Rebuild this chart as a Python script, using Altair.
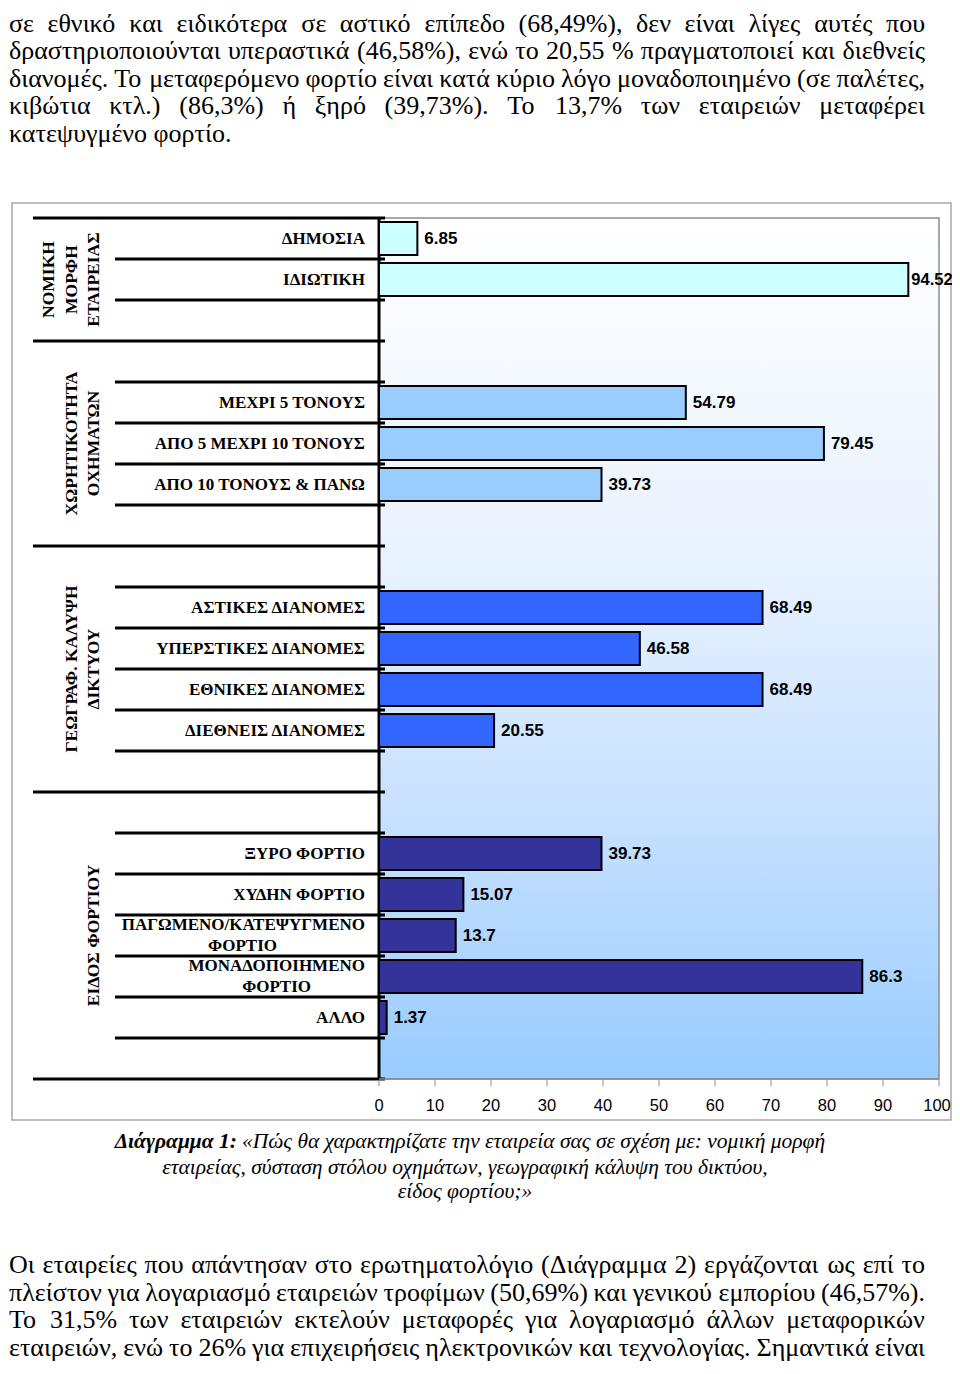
import glob
import struct

import altair as alt
import pandas as pd

# ---------------- data ----------------
top_lines = [
    "σε εθνικό και ειδικότερα σε αστικό επίπεδο (68,49%), δεν είναι λίγες αυτές που",
    "δραστηριοποιούνται υπεραστικά (46,58%), ενώ το 20,55 % πραγματοποιεί και διεθνείς",
    "διανομές. Το μεταφερόμενο φορτίο είναι κατά κύριο λόγο μοναδοποιημένο (σε παλέτες,",
    "κιβώτια κτλ.) (86,3%) ή ξηρό (39,73%). Το 13,7% των εταιρειών μεταφέρει",
    "κατεψυγμένο φορτίο.",
]
bottom_lines = [
    "Οι εταιρείες που απάντησαν στο ερωτηματολόγιο (Διάγραμμα 2) εργάζονται ως επί το",
    "πλείστον για λογαριασμό εταιρειών τροφίμων (50,69%) και γενικού εμπορίου (46,57%).",
    "Το 31,5% των εταιρειών εκτελούν μεταφορές για λογαριασμό άλλων μεταφορικών",
    "εταιρειών, ενώ το 26% για επιχειρήσεις ηλεκτρονικών και τεχνολογίας. Σημαντικά είναι",
]
caption_bold = "Διάγραμμα 1:"
caption_lines = [
    "«Πώς θα χαρακτηρίζατε την εταιρεία σας σε σχέση με: νομική μορφή",
    "εταιρείας, σύσταση στόλου οχημάτων, γεωγραφική κάλυψη του δικτύου,",
    "είδος φορτίου;»",
]

group_titles = [
    ["ΝΟΜΙΚΗ", "ΜΟΡΦΗ", "ΕΤΑΙΡΕΙΑΣ"],
    ["ΧΩΡΗΤΙΚΟΤΗΤΑ", "ΟΧΗΜΑΤΩΝ"],
    ["ΓΕΩΓΡΑΦ. ΚΑΛΥΨΗ", "ΔΙΚΤΥΟΥ"],
    ["ΕΙΔΟΣ ΦΟΡΤΙΟΥ"],
]
cats_legal = ["ΔΗΜΟΣΙΑ", "ΙΔΙΩΤΙΚΗ", ""]
vals_legal = [6.85, 94.52, None]
cats_capacity = ["", "ΜΕΧΡΙ 5 ΤΟΝΟΥΣ", "ΑΠΟ 5 ΜΕΧΡΙ 10 ΤΟΝΟΥΣ", "ΑΠΟ 10 ΤΟΝΟΥΣ & ΠΑΝΩ", ""]
vals_capacity = [None, 54.79, 79.45, 39.73, None]
cats_coverage = ["", "ΑΣΤΙΚΕΣ ΔΙΑΝΟΜΕΣ", "ΥΠΕΡΣΤΙΚΕΣ ΔΙΑΝΟΜΕΣ", "ΕΘΝΙΚΕΣ ΔΙΑΝΟΜΕΣ", "ΔΙΕΘΝΕΙΣ ΔΙΑΝΟΜΕΣ", ""]
vals_coverage = [None, 68.49, 46.58, 68.49, 20.55, None]
cats_cargo = ["", "ΞΥΡΟ ΦΟΡΤΙΟ", "ΧΥΔΗΝ ΦΟΡΤΙΟ", "ΠΑΓΩΜΕΝΟ/ΚΑΤΕΨΥΓΜΕΝΟ\nΦΟΡΤΙΟ", "ΜΟΝΑΔΟΠΟΙΗΜΕΝΟ\nΦΟΡΤΙΟ", "ΑΛΛΟ", ""]
vals_cargo = [None, 39.73, 15.07, 13.7, 86.3, 1.37, None]
group_colors = ["#CCFFFF", "#99CCFF", "#3366FF", "#333399"]
tick_values = [0, 10, 20, 30, 40, 50, 60, 70, 80, 90, 100]

# ---------------- layout constants (page pixels) ----------------
M = 8                       # page margin
PLOT_L, PLOT_R = 379, 939   # x = 0 .. 100
PLOT_T, PLOT_B = 218, 1079  # rows 0 .. n_rows
CAT_LH = 21
GRP_LH = 22.5
CAT_RIGHT = 365
TEXT_L, TEXT_R = 9, 925
BODY_SIZE = 26
SERIF = "Liberation Serif"
SANS = "Liberation Sans"


def P(v):
    return v - M


# ---------------- font metrics (for justified text) ----------------
def load_measure(fname):
    try:
        paths = glob.glob("/usr/share/fonts/**/" + fname, recursive=True)
        if not paths:
            return None
        data = open(paths[0], "rb").read()
        ntab = struct.unpack(">H", data[4:6])[0]
        tabs = {}
        for i in range(ntab):
            tag, _cs, off, ln = struct.unpack(">4sIII", data[12 + 16 * i:28 + 16 * i])
            tabs[tag.decode("latin1")] = off
        upem = struct.unpack(">H", data[tabs["head"] + 18:tabs["head"] + 20])[0]
        nhm = struct.unpack(">H", data[tabs["hhea"] + 34:tabs["hhea"] + 36])[0]
        hm = tabs["hmtx"]
        adv = [struct.unpack(">H", data[hm + 4 * i:hm + 4 * i + 2])[0] for i in range(nhm)]
        cm = tabs["cmap"]
        nsub = struct.unpack(">H", data[cm + 2:cm + 4])[0]
        st = None
        for i in range(nsub):
            pid, eid, off = struct.unpack(">HHI", data[cm + 4 + 8 * i:cm + 12 + 8 * i])
            fmt = struct.unpack(">H", data[cm + off:cm + off + 2])[0]
            if fmt == 4 and pid == 3:
                st = cm + off
                break
        if st is None:
            return None
        seg2 = struct.unpack(">H", data[st + 6:st + 8])[0]
        seg = seg2 // 2
        ends = struct.unpack(f">{seg}H", data[st + 14:st + 14 + seg2])
        starts = struct.unpack(f">{seg}H", data[st + 16 + seg2:st + 16 + 2 * seg2])
        deltas = struct.unpack(f">{seg}h", data[st + 16 + 2 * seg2:st + 16 + 3 * seg2])
        ro = st + 16 + 3 * seg2
        rofs = struct.unpack(f">{seg}H", data[ro:ro + seg2])

        def gid(ch):
            c = ord(ch)
            for k in range(seg):
                if ends[k] >= c:
                    if starts[k] > c:
                        return 0
                    if rofs[k] == 0:
                        return (c + deltas[k]) & 0xFFFF
                    a = ro + 2 * k + rofs[k] + 2 * (c - starts[k])
                    g = struct.unpack(">H", data[a:a + 2])[0]
                    return (g + deltas[k]) & 0xFFFF if g else 0
            return 0

        def measure(s, size):
            return sum(adv[min(gid(ch), nhm - 1)] for ch in s) * size / upem

        return measure
    except Exception:
        return None


measure_reg = load_measure("LiberationSerif-Regular.ttf")
measure_bold = load_measure("LiberationSerif-Bold.ttf")

# ---------------- build tables ----------------
all_cats = [cats_legal, cats_capacity, cats_coverage, cats_cargo]
all_vals = [vals_legal, vals_capacity, vals_coverage, vals_cargo]
rows, groups, short_b, long_b = [], [], [], []
r = 0
for gi, (cats, vals) in enumerate(zip(all_cats, all_vals)):
    start = r
    long_b.append(r)
    for j, (c, v) in enumerate(zip(cats, vals)):
        if j > 0:
            short_b.append(r)
        rows.append(dict(row=r, cat=c, value=v, color=group_colors[gi],
                         label="" if v is None else f"{v:g}"))
        r += 1
    groups.append(dict(title=group_titles[gi], start=start, end=r))
long_b.append(r)
n_rows = r
row_px = (PLOT_B - PLOT_T) / n_rows
x_px = (PLOT_R - PLOT_L) / 100


def row_at(page_y):
    return (page_y - PLOT_T) / row_px


def x_at(page_x):
    return (page_x - PLOT_L) / x_px


df = pd.DataFrame(rows)
df["mid"] = df["row"] + 0.5
df["y0"] = df["row"] + 0.1
df["y1"] = df["row"] + 0.9
df["zero"] = 0
bars = df[df["value"].notna()].copy()

# category label lines
first_items, other_items = [], []
for _, rw in df.iterrows():
    parts = rw["cat"].split("\n")
    n = len(parts)
    if measure_bold:
        w1 = measure_bold(parts[0], 17)
    else:
        w1 = len(parts[0]) * 0.72 * 17
    for k, part in enumerate(parts):
        yu = rw["mid"] + (k - (n - 1) / 2) * CAT_LH / row_px
        if k == 0:
            first_items.append(dict(txt=part, yu=yu))
        else:
            other_items.append(dict(txt=part, yu=yu, xu=x_at(CAT_RIGHT - w1 / 2)))
first_df = pd.DataFrame(first_items)
other_df = pd.DataFrame(other_items)

gdf = pd.DataFrame(groups)
gdf["mid"] = (gdf["start"] + gdf["end"]) / 2
gdf["gx"] = [x_at(94 - (len(t) - 1) * GRP_LH) for t in gdf["title"]]

sdf = pd.DataFrame({"b": short_b})
ldf = pd.DataFrame({"b": long_b})
tdf = pd.DataFrame({"t": tick_values})


def layout_para(lines, justify, first_y, gap_y):
    items = []
    for i, (line, just) in enumerate(zip(lines, justify)):
        yu = row_at(first_y + i * gap_y)
        if measure_reg is None or not just:
            items.append(dict(txt=line, xu=x_at(TEXT_L), yu=yu))
            continue
        words = line.split(" ")
        ws = [measure_reg(w, BODY_SIZE) for w in words]
        gap = (TEXT_R - TEXT_L - sum(ws)) / (len(words) - 1)
        xx = TEXT_L
        for w, wd in zip(words, ws):
            items.append(dict(txt=w, xu=x_at(xx), yu=yu))
            xx += wd + gap
    return pd.DataFrame(items)


top_df = layout_para(top_lines, [True] * (len(top_lines) - 1) + [False], 23.5, 27.5)
bot_df = layout_para(bottom_lines, [True] * len(bottom_lines), 1265, 27.7)
cap_df = pd.DataFrame({"i": range(len(caption_lines)), "txt": caption_lines})

# ---------------- scales ----------------
xs = alt.Scale(domain=[0, 100], range=[P(PLOT_L), P(PLOT_R)], nice=False, zero=False)
ys = alt.Scale(domain=[0, n_rows], range=[P(PLOT_T), P(PLOT_B)], nice=False, zero=False)
NOX = dict(scale=xs, axis=None)
NOY = dict(scale=ys, axis=None)

base1 = pd.DataFrame({"x0": [0], "x1": [100], "y0": [0], "y1": [n_rows]})

frame = alt.Chart(base1).mark_rect(
    fill="transparent", stroke="#A8A8A8", strokeWidth=1.5
).encode(x=alt.value(P(12)), x2=alt.value(P(951)), y=alt.value(P(203)), y2=alt.value(P(1120)))

grad = alt.LinearGradient(
    gradient="linear", x1=0, x2=0, y1=0, y2=1,
    stops=[alt.GradientStop(color="#FFFFFF", offset=0),
           alt.GradientStop(color="#E8F2FF", offset=0.4),
           alt.GradientStop(color="#C6E0FF", offset=0.7),
           alt.GradientStop(color="#99CCFF", offset=1)],
)
plotbg = alt.Chart(base1).mark_rect(fill=grad, stroke="#8C8C8C", strokeWidth=1.5).encode(
    x=alt.X("x0:Q", **NOX), x2="x1:Q",
    y=alt.Y("y0:Q", **NOY), y2="y1:Q",
)

bar_layer = alt.Chart(bars).mark_rect(stroke="black", strokeWidth=2).encode(
    x=alt.X("zero:Q", **NOX), x2="value:Q",
    y=alt.Y("y0:Q", **NOY), y2="y1:Q",
    color=alt.Color("color:N", scale=None),
)

val_style = dict(align="left", baseline="middle", font=SANS, fontWeight="bold", color="black")
val_labels = alt.Chart(bars[bars["value"] < 90]).mark_text(dx=7, fontSize=17, **val_style).encode(
    x=alt.X("value:Q", **NOX), y=alt.Y("mid:Q", **NOY), text="label:N",
)
val_labels_edge = alt.Chart(bars[bars["value"] >= 90]).mark_text(dx=3, fontSize=16.5, **val_style).encode(
    x=alt.X("value:Q", **NOX), y=alt.Y("mid:Q", **NOY), text="label:N",
)

vaxis = alt.Chart(base1).mark_rule(color="black", strokeWidth=3).encode(
    x=alt.X("x0:Q", **NOX), y=alt.Y("y0:Q", **NOY), y2="y1:Q",
)
haxis = alt.Chart(base1).mark_rule(color="#8C8C8C", strokeWidth=1.5).encode(
    x=alt.X("x0:Q", **NOX), x2="x1:Q", y=alt.Y("y1:Q", **NOY),
)

short_lines = alt.Chart(sdf).mark_rule(color="black", strokeWidth=3).encode(
    x=alt.value(P(115)), x2=alt.value(P(385)), y=alt.Y("b:Q", **NOY),
)
long_lines = alt.Chart(ldf).mark_rule(color="black", strokeWidth=3).encode(
    x=alt.value(P(33)), x2=alt.value(P(385)), y=alt.Y("b:Q", **NOY),
)

cat_style = dict(baseline="middle", font=SERIF, fontWeight="bold", fontSize=17, color="black")
cat_first = alt.Chart(first_df).mark_text(align="right", **cat_style).encode(
    x=alt.value(P(CAT_RIGHT)), y=alt.Y("yu:Q", **NOY), text="txt:N",
)
cat_other = alt.Chart(other_df).mark_text(align="center", **cat_style).encode(
    x=alt.X("xu:Q", **NOX), y=alt.Y("yu:Q", **NOY), text="txt:N",
)

grp_labels = alt.Chart(gdf).mark_text(
    align="center", baseline="middle", angle=270, font=SERIF, fontWeight="bold", fontSize=17.5,
    lineHeight=GRP_LH, color="black"
).encode(
    x=alt.X("gx:Q", **NOX), y=alt.Y("mid:Q", **NOY), text=alt.Text("title:N"),
)

tick_marks = alt.Chart(tdf).mark_rule(color="#8C8C8C", strokeWidth=1).encode(
    x=alt.X("t:Q", **NOX), y=alt.value(P(1080)), y2=alt.value(P(1086)),
)
tick_style = dict(align="center", baseline="middle", font=SANS, fontSize=16.5, color="black")
tick_labels = alt.Chart(tdf[tdf["t"] < 100]).mark_text(**tick_style).encode(
    x=alt.X("t:Q", **NOX), y=alt.value(P(1106)), text="t:Q",
)
tick_labels_edge = alt.Chart(tdf[tdf["t"] >= 100]).mark_text(dx=-2, **tick_style).encode(
    x=alt.X("t:Q", **NOX), y=alt.value(P(1106)), text="t:Q",
)

body_style = dict(align="left", baseline="middle", font=SERIF, fontSize=BODY_SIZE, color="black")
top_text = alt.Chart(top_df).mark_text(**body_style).encode(
    x=alt.X("xu:Q", **NOX), y=alt.Y("yu:Q", **NOY), text="txt:N",
)
bot_text = alt.Chart(bot_df).mark_text(**body_style).encode(
    x=alt.X("xu:Q", **NOX), y=alt.Y("yu:Q", **NOY), text="txt:N",
)

cap_style = dict(baseline="middle", font=SERIF, fontSize=21.5, fontStyle="italic", color="black")
cap_first = alt.Chart(pd.DataFrame({"txt": [caption_bold]})).mark_text(
    align="right", fontWeight="bold", **cap_style
).encode(x=alt.value(P(237)), y=alt.value(P(1142)), text="txt:N")
cap_rest1 = alt.Chart(cap_df[cap_df["i"] == 0]).mark_text(align="left", **cap_style).encode(
    x=alt.value(P(242)), y=alt.value(P(1142)), text="txt:N"
)
cap_rest = alt.Chart(cap_df[cap_df["i"] > 0]).transform_calculate(
    ly=f"{row_at(1143.5)} + datum.i * {24.4 / row_px}"
).mark_text(align="center", **cap_style).encode(
    x=alt.value(P(465)), y=alt.Y("ly:Q", **NOY), text="txt:N"
)

chart = alt.layer(
    frame, plotbg, short_lines, long_lines, vaxis, haxis, bar_layer, val_labels, val_labels_edge,
    cat_first, cat_other, grp_labels, tick_marks, tick_labels, tick_labels_edge,
    top_text, bot_text, cap_first, cap_rest1, cap_rest,
).properties(
    width=944, height=1354, autosize=alt.AutoSizeParams(type="none"), padding=0, background="white"
).configure_view(strokeWidth=0)

chart.save("out.html", embed_options={"renderer": "svg", "actions": False})
